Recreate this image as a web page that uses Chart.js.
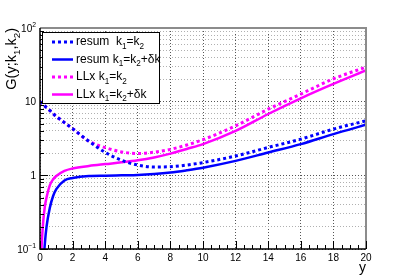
<!DOCTYPE html>
<html>
<head>
  <script src="https://cdn.jsdelivr.net/npm/chart.js@4.4.0/dist/chart.umd.min.js"></script>
  <style>
    body { margin: 0; background: #fff; }
    #wrap { width: 407px; height: 277px; }
  </style>
  <script>
    // rapidity y (x axis)
    var rapidity = [0, 0.1, 0.2, 0.3, 0.4, 0.6, 0.8, 1, 1.5, 2, 3, 4, 5, 6, 7, 8, 9, 10, 12, 14, 16, 18, 20];

    var resumEq  = [10, 9.55, 9.1, 8.7, 8.3, 7.6, 6.9, 6.3, 5.2, 4.3, 2.9, 2.05, 1.6, 1.38, 1.3, 1.31, 1.38, 1.49, 1.83, 2.39, 3.1, 4.24, 5.5];
    var resumDk  = [null, 0.02, 0.055, 0.12, 0.2, 0.36, 0.52, 0.65, 0.85, 0.92, 0.98, 0.99, 1.0, 1.01, 1.04, 1.09, 1.17, 1.27, 1.57, 2.04, 2.65, 3.63, 4.86];
    var llxEq    = [10, 9.55, 9.1, 8.7, 8.3, 7.6, 6.9, 6.3, 5.2, 4.3, 2.9, 2.38, 2.08, 1.98, 2.06, 2.25, 2.58, 3.05, 4.7, 7.9, 12.7, 20.4, 29.5];
    var llxDk    = [0.03, 0.11, 0.24, 0.38, 0.5, 0.73, 0.88, 0.98, 1.15, 1.24, 1.34, 1.42, 1.5, 1.6, 1.75, 1.97, 2.28, 2.65, 4.0, 6.8, 11.1, 17.4, 26.5];

    var legendLabels = ['resum  k_1=k_2', 'resum k_1=k_2+\u03b4k', 'LLx k_1=k_2', 'LLx k_1=k_2+\u03b4k'];
    var yTickValues = [0.1, 1, 10, 100];
    var yTickLabels = ['10^-1', '1', '10', '10^2'];
    var yTitle = 'G(y;k_1,k_2)';
    var xTitle = 'y';

    var BLUE = '#0000ff', MAGENTA = '#ff00ff';
    var FONT = '"Liberation Sans", Arial, sans-serif';

    function pts(arr) {
      return rapidity.map(function (x, i) { return { x: x, y: arr[i] }; });
    }

    // text with _x subscripts and ^.. superscripts
    function parseRich(s) {
      var parts = [], i = 0, cur = '';
      while (i < s.length) {
        var c = s[i];
        if (c === '_' || c === '^') {
          if (cur) parts.push({ t: cur, k: 0 });
          cur = '';
          var j = i + 1, t = '';
          if (s[j] === '-') { t += '\u2212'; j++; }
          t += s[j];
          parts.push({ t: t, k: c === '_' ? 1 : -1 });
          i = j + 1;
        } else { cur += c; i++; }
      }
      if (cur) parts.push({ t: cur, k: 0 });
      return parts;
    }

    function richWidth(ctx, parts, size) {
      var w = 0;
      parts.forEach(function (p) {
        ctx.font = (p.k ? size * 0.68 : size) + 'px ' + FONT;
        w += ctx.measureText(p.t).width;
      });
      return w;
    }

    function drawRich(ctx, parts, x, y, size) {
      ctx.textBaseline = 'middle';
      ctx.textAlign = 'left';
      parts.forEach(function (p) {
        var s = p.k ? size * 0.68 : size;
        ctx.font = s + 'px ' + FONT;
        ctx.fillText(p.t, x, y + p.k * size * 0.38);
        x += ctx.measureText(p.t).width;
      });
    }

    var rootStyle = {
      id: 'rootStyle',
      afterDatasetsDraw: function (chart) {
        var ctx = chart.ctx, a = chart.chartArea;
        var xs = chart.scales.x, ys = chart.scales.y;
        ctx.save();

        // frame
        ctx.strokeStyle = '#8c8c8c';
        ctx.lineWidth = 2;
        ctx.beginPath();
        ctx.moveTo(a.left, a.top); ctx.lineTo(a.right, a.top); ctx.lineTo(a.right, a.bottom);
        ctx.stroke();
        ctx.strokeStyle = '#000';
        ctx.lineWidth = 1.5;
        ctx.beginPath();
        ctx.moveTo(a.left, a.top); ctx.lineTo(a.left, a.bottom); ctx.lineTo(a.right, a.bottom);
        ctx.stroke();

        // inward ticks
        ctx.lineWidth = 1;
        ctx.beginPath();
        for (var v = 0; v <= 20.001; v += 0.5) {
          var px = Math.round(xs.getPixelForValue(v)) + 0.5;
          var len = (Math.abs(v / 2 - Math.round(v / 2)) < 1e-6) ? 8 : 4;
          ctx.moveTo(px, a.bottom); ctx.lineTo(px, a.bottom - len);
        }
        for (var e = -1; e < 2; e++) {
          for (var m = 1; m <= 9; m++) {
            var py = Math.round(ys.getPixelForValue(m * Math.pow(10, e))) + 0.5;
            var l = m === 1 ? 8 : 4;
            ctx.moveTo(a.left, py); ctx.lineTo(a.left + l, py);
          }
        }
        ctx.stroke();

        // y tick labels
        ctx.fillStyle = '#000';
        yTickValues.forEach(function (v, i) {
          var parts = parseRich(yTickLabels[i]);
          var w = richWidth(ctx, parts, 10);
          drawRich(ctx, parts, a.left - 4 - w, ys.getPixelForValue(v) + 1, 10);
        });

        // axis titles
        var tp = parseRich(yTitle);
        var tw = richWidth(ctx, tp, 14.5);
        ctx.save();
        ctx.translate(12, a.top);
        ctx.rotate(-Math.PI / 2);
        drawRich(ctx, tp, -tw, 0, 14.5);
        ctx.restore();
        ctx.font = '14px ' + FONT;
        ctx.textAlign = 'right';
        ctx.textBaseline = 'middle';
        ctx.fillText(xTitle, a.right, 268);

        // legend
        var bx = 42, by = 32, bw = 117, bh = 71;
        ctx.fillStyle = '#fff';
        ctx.fillRect(bx, by, bw, bh);
        ctx.strokeStyle = '#000';
        ctx.lineWidth = 1;
        ctx.strokeRect(bx + 0.5, by + 0.5, bw, bh);
        chart.data.datasets.forEach(function (ds, i) {
          var ry = by + 10 + i * 17.5;
          ctx.strokeStyle = ds.borderColor;
          ctx.lineWidth = ds.borderWidth;
          ctx.setLineDash(ds.borderDash || []);
          ctx.beginPath();
          ctx.moveTo(52, ry); ctx.lineTo(73, ry);
          ctx.stroke();
          ctx.setLineDash([]);
          ctx.fillStyle = '#000';
          drawRich(ctx, parseRich(legendLabels[i]), 76, ry, 12);
        });
        ctx.restore();
      }
    };

    function gridColor(c) {
      var v = c.tick ? c.tick.value : 1;
      var lg = Math.log10(v);
      return Math.abs(lg - Math.round(lg)) < 1e-6 ? '#555' : '#b0b0b0';
    }

    window.onload = function () {
      var ctx = document.getElementById('chart').getContext('2d');
      new Chart(ctx, {
        type: 'line',
        data: {
          datasets: [
            { label: legendLabels[0], data: pts(resumEq), borderColor: BLUE, borderWidth: 3, borderDash: [3, 3] },
            { label: legendLabels[1], data: pts(resumDk), borderColor: BLUE, borderWidth: 2.5 },
            { label: legendLabels[2], data: pts(llxEq), borderColor: MAGENTA, borderWidth: 3, borderDash: [3, 3] },
            { label: legendLabels[3], data: pts(llxDk), borderColor: MAGENTA, borderWidth: 2.5 }
          ]
        },
        plugins: [rootStyle],
        options: {
          responsive: false,
          animation: false,
          events: [],
          layout: { padding: { top: 28, right: 41, left: 0, bottom: 0 } },
          elements: {
            point: { radius: 0 },
            line: { cubicInterpolationMode: 'monotone', fill: false }
          },
          plugins: { legend: { display: false }, tooltip: { enabled: false } },
          scales: {
            x: {
              type: 'linear', min: 0, max: 20,
              border: { display: false, dash: [1, 2] },
              grid: { color: '#555', drawTicks: false },
              ticks: { stepSize: 2, padding: 3, color: '#000', font: { family: FONT, size: 10 }, maxRotation: 0 },
              afterFit: function (s) { s.height = 28; }
            },
            y: {
              type: 'logarithmic', min: 0.1, max: 100,
              border: { display: false, dash: [1, 2] },
              grid: { color: gridColor, drawTicks: false },
              ticks: { display: false },
              afterBuildTicks: function (s) {
                var t = [];
                for (var e = -1; e < 2; e++) for (var m = 1; m <= 9; m++) t.push({ value: m * Math.pow(10, e) });
                t.push({ value: 100 });
                s.ticks = t;
              },
              afterFit: function (s) { s.width = 40; }
            }
          }
        }
      });
    };
  </script>
</head>
<body>
  <div id="wrap"><canvas id="chart" width="407" height="277"></canvas></div>
</body>
</html>
